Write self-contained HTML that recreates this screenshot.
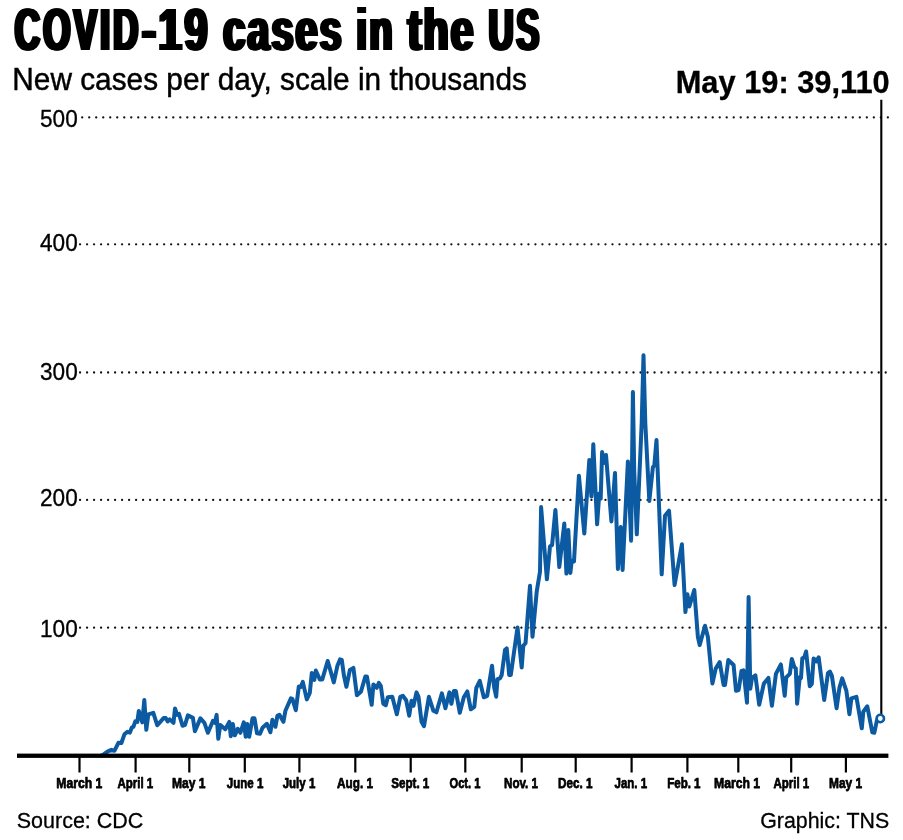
<!DOCTYPE html>
<html lang="en">
<head>
<meta charset="utf-8">
<title>COVID-19 cases in the US</title>
<style>
html,body{margin:0;padding:0;background:#fff;}
body{width:903px;height:840px;overflow:hidden;font-family:"Liberation Sans",sans-serif;}
svg{display:block;}
.wrap{position:relative;width:903px;height:840px;}
.title{position:absolute;left:0;top:0;margin:0;white-space:nowrap;font-weight:bold;font-size:59.6px;line-height:60px;color:#000;}
.title span{position:absolute;left:0;top:0;transform-origin:0 0;}
.w1{transform:translate(14.8px,0.35px) scaleX(0.5869);letter-spacing:5.45px;text-shadow:3.32px 0 0 #000,-3.32px 0 0 #000,1.66px 0 0 #000,-1.66px 0 0 #000;}
.w2{transform:translate(142.0px,0.35px) scaleX(0.7015);letter-spacing:3.71px;text-shadow:2.78px 0 0 #000,-2.78px 0 0 #000,1.39px 0 0 #000,-1.39px 0 0 #000;}
.w3{transform:translate(223.3px,0.35px) scaleX(0.6634);letter-spacing:3.17px;text-shadow:2.94px 0 0 #000,-2.94px 0 0 #000,1.47px 0 0 #000,-1.47px 0 0 #000;}
.w4{transform:translate(356.4px,0.35px) scaleX(0.6373);letter-spacing:3.77px;text-shadow:3.06px 0 0 #000,-3.06px 0 0 #000,1.53px 0 0 #000,-1.53px 0 0 #000;}
.w5{transform:translate(407.7px,0.35px) scaleX(0.6886);letter-spacing:3.05px;text-shadow:2.83px 0 0 #000,-2.83px 0 0 #000,1.42px 0 0 #000,-1.42px 0 0 #000;}
.w6{transform:translate(488.7px,0.35px) scaleX(0.5740);letter-spacing:5.23px;text-shadow:3.40px 0 0 #000,-3.40px 0 0 #000,1.70px 0 0 #000,-1.70px 0 0 #000;}
.sub{font-size:30.6px;fill:#000;stroke:#000;stroke-width:0.45px;}
.call{font-size:31.1px;font-weight:bold;fill:#000;stroke:#000;stroke-width:0.3px;}
.yl{font-size:23.2px;fill:#000;text-anchor:end;stroke:#000;stroke-width:0.3px;}
.xl{font-size:15.2px;font-weight:bold;fill:#000;stroke:#000;stroke-width:0.75px;stroke-linejoin:round;}
.foot{font-size:22.8px;fill:#000;stroke:#000;stroke-width:0.3px;}
.grid{stroke:#111;stroke-width:2.3;stroke-dasharray:0.01 6.9956;stroke-linecap:round;fill:none;}
.tick{stroke:#000;stroke-width:2.2;}
.line{fill:none;stroke:#0b5aa2;stroke-width:4;stroke-linejoin:round;stroke-linecap:round;}
</style>
</head>
<body>
<div class="wrap">
<h1 class="title"><span class="w1">COVID</span><span class="w2">-19</span> <span class="w3">cases</span> <span class="w4">in</span> <span class="w5">the</span> <span class="w6">US</span></h1>
<svg width="903" height="840" viewBox="0 0 903 840" font-family="'Liberation Sans', sans-serif">
<rect width="903" height="840" fill="#fff"/>
<text class="sub" x="12.3" y="90.3" textLength="514.6" lengthAdjust="spacingAndGlyphs">New cases per day, scale in thousands</text>
<text class="call" x="675.7" y="93" textLength="214" lengthAdjust="spacingAndGlyphs">May 19: 39,110</text>
<line class="grid" x1="82.2" y1="117.4" x2="887.89" y2="117.4"/>
<text class="yl" x="77.7" y="126.6" textLength="37.7" lengthAdjust="spacingAndGlyphs">500</text>
<line class="grid" x1="80.06" y1="244.3" x2="885.75" y2="244.3"/>
<text class="yl" x="77.7" y="251.4" textLength="37.7" lengthAdjust="spacingAndGlyphs">400</text>
<line class="grid" x1="80.06" y1="372.5" x2="885.75" y2="372.5"/>
<text class="yl" x="77.7" y="380.4" textLength="37.7" lengthAdjust="spacingAndGlyphs">300</text>
<line class="grid" x1="80.06" y1="499.9" x2="885.75" y2="499.9"/>
<text class="yl" x="77.7" y="505.5" textLength="37.7" lengthAdjust="spacingAndGlyphs">200</text>
<line class="grid" x1="80.06" y1="627.7" x2="885.75" y2="627.7"/>
<text class="yl" x="77.7" y="636.8" textLength="37.7" lengthAdjust="spacingAndGlyphs">100</text>
<line x1="881.3" y1="99.8" x2="881.3" y2="714" stroke="#000" stroke-width="2.1"/>
<path class="line" d="M101.5,755.6 L104.0,754.2 L107.9,751.3 L111.4,749.8 L114.4,750.8 L118.4,742.8 L121.4,743.0 L124.4,734.3 L127.4,731.8 L129.9,732.6 L131.9,727.3 L133.4,726.8 L135.3,721.4 L137.3,721.9 L138.8,710.9 L142.3,722.4 L144.3,699.9 L146.3,729.8 L148.3,714.4 L153.3,712.9 L157.3,725.3 L163.8,717.9 L165.7,717.9 L167.7,721.4 L169.7,719.4 L173.5,722.9 L175.0,708.4 L177.0,714.9 L179.0,713.9 L182.5,725.8 L185.0,724.9 L187.9,715.4 L192.9,717.9 L194.9,731.3 L200.4,718.4 L204.4,722.9 L207.9,732.8 L212.9,720.9 L214.9,722.9 L216.6,714.9 L218.3,738.8 L220.3,724.9 L225.3,729.3 L229.3,721.9 L230.8,736.3 L232.8,723.9 L234.8,735.3 L237.8,728.8 L240.3,732.8 L243.8,722.4 L245.7,736.8 L247.2,723.9 L249.2,736.8 L252.5,718.3 L254.5,718.3 L257.0,733.3 L260.0,733.8 L262.5,727.8 L266.9,723.8 L270.4,732.3 L272.4,719.8 L275.4,726.8 L277.4,715.8 L279.4,714.8 L283.4,721.8 L285.4,710.8 L290.9,698.4 L292.4,698.9 L295.8,710.3 L298.8,686.4 L300.8,686.9 L302.8,681.9 L306.8,699.4 L309.8,692.9 L311.8,673.0 L314.3,679.9 L315.8,670.5 L319.8,679.4 L322.3,679.4 L327.7,661.0 L333.8,682.4 L337.5,665.4 L340.0,659.4 L341.8,659.9 L344.0,675.9 L346.4,686.8 L349.9,669.9 L353.4,667.9 L356.9,695.3 L360.9,691.8 L365.4,676.4 L366.9,676.4 L371.7,704.8 L373.4,684.4 L376.8,687.8 L378.8,682.9 L380.8,685.8 L383.3,703.8 L385.8,705.3 L387.8,697.3 L392.3,696.8 L396.8,714.3 L400.3,696.8 L402.8,695.8 L406.2,700.3 L409.2,715.7 L411.5,700.8 L413.5,705.8 L416.5,692.4 L418.5,696.8 L421.5,721.8 L424.0,726.2 L428.9,696.8 L433.4,710.8 L436.4,712.3 L441.9,693.4 L445.4,708.3 L449.4,692.4 L451.4,703.8 L453.9,690.9 L455.8,690.9 L459.8,712.8 L463.8,697.3 L467.3,691.4 L470.8,709.3 L474.3,706.8 L476.3,687.9 L479.8,680.9 L483.8,697.3 L487.2,695.8 L492.0,665.8 L494.2,687.5 L496.2,696.7 L497.5,679.2 L500.0,678.3 L501.7,675.0 L505.0,650.0 L506.7,648.3 L509.2,675.0 L510.8,675.0 L517.5,627.5 L521.7,667.5 L523.3,645.8 L525.5,643.3 L530.0,585.8 L532.5,636.7 L536.7,591.7 L540.0,571.7 L541.1,507.1 L546.9,579.3 L550.0,546.4 L552.1,545.0 L555.4,510.0 L559.3,567.1 L564.3,523.6 L566.4,573.6 L568.3,530.0 L570.4,572.9 L571.7,560.7 L574.0,561.4 L578.9,475.7 L584.3,533.6 L589.3,460.0 L591.4,496.4 L593.3,444.3 L597.1,524.3 L599.3,493.6 L600.7,498.6 L602.1,452.1 L604.3,462.9 L606.0,455.0 L611.4,521.4 L615.0,472.9 L617.9,569.0 L620.7,527.0 L622.6,570.0 L627.9,461.4 L631.1,540.7 L632.9,392.1 L634.2,470.0 L636.8,534.3 L641.7,423.0 L643.5,355.2 L645.3,423.0 L649.3,501.0 L652.9,467.1 L654.3,465.7 L656.5,440.0 L661.7,574.3 L665.0,515.7 L669.0,510.7 L674.6,585.0 L681.9,544.3 L685.4,612.1 L687.4,594.3 L689.3,606.4 L694.3,590.0 L697.9,637.1 L699.7,645.0 L705.0,625.7 L707.9,637.1 L712.4,683.6 L715.7,668.6 L719.7,662.1 L723.6,685.0 L725.0,685.0 L728.3,660.0 L733.6,665.0 L736.0,690.7 L738.6,690.0 L741.5,670.9 L743.5,670.4 L747.0,702.8 L748.6,597.1 L750.3,688.8 L752.0,677.9 L755.4,675.4 L759.2,704.8 L763.9,683.4 L768.4,677.9 L771.9,705.8 L775.9,673.9 L780.9,664.4 L784.7,695.8 L786.3,677.4 L789.8,673.9 L791.8,658.9 L794.3,666.9 L795.8,668.4 L797.1,703.8 L799.8,676.9 L801.0,677.9 L802.3,658.4 L804.3,657.4 L806.1,651.5 L809.8,686.3 L811.8,683.9 L813.6,658.4 L816.2,661.4 L818.7,657.4 L824.2,699.9 L828.0,673.0 L829.9,671.5 L831.9,675.9 L836.6,708.3 L839.4,687.9 L842.2,678.4 L846.4,690.9 L849.4,714.3 L851.4,698.4 L856.4,696.9 L861.8,728.3 L863.3,711.8 L867.3,706.3 L872.3,732.3 L874.3,732.8 L876.8,720.8 L877.8,718.8"/>
<circle cx="880.3" cy="718.5" r="3.7" fill="#fff" stroke="#0b5aa2" stroke-width="2.6"/>
<rect x="17" y="753.6" width="871.4" height="4.3" fill="#000"/>
<line class="tick" x1="79.5" y1="757" x2="79.5" y2="772.5"/>
<text class="xl" x="56.27" y="788.2" textLength="46.09" lengthAdjust="spacingAndGlyphs">March 1</text>
<line class="tick" x1="135.6" y1="757" x2="135.6" y2="772.5"/>
<text class="xl" x="117.41" y="788.2" textLength="35.77" lengthAdjust="spacingAndGlyphs">April 1</text>
<line class="tick" x1="189.3" y1="757" x2="189.3" y2="772.5"/>
<text class="xl" x="172.00" y="788.2" textLength="33.53" lengthAdjust="spacingAndGlyphs">May 1</text>
<line class="tick" x1="244.8" y1="757" x2="244.8" y2="772.5"/>
<text class="xl" x="226.84" y="788.2" textLength="36.57" lengthAdjust="spacingAndGlyphs">June 1</text>
<line class="tick" x1="299.4" y1="757" x2="299.4" y2="772.5"/>
<text class="xl" x="282.72" y="788.2" textLength="32.56" lengthAdjust="spacingAndGlyphs">July 1</text>
<line class="tick" x1="355.3" y1="757" x2="355.3" y2="772.5"/>
<text class="xl" x="337.07" y="788.2" textLength="35.93" lengthAdjust="spacingAndGlyphs">Aug. 1</text>
<line class="tick" x1="410.7" y1="757" x2="410.7" y2="772.5"/>
<text class="xl" x="391.15" y="788.2" textLength="38.22" lengthAdjust="spacingAndGlyphs">Sept. 1</text>
<line class="tick" x1="465.3" y1="757" x2="465.3" y2="772.5"/>
<text class="xl" x="449.48" y="788.2" textLength="30.96" lengthAdjust="spacingAndGlyphs">Oct. 1</text>
<line class="tick" x1="521.7" y1="757" x2="521.7" y2="772.5"/>
<text class="xl" x="504.00" y="788.2" textLength="34.02" lengthAdjust="spacingAndGlyphs">Nov. 1</text>
<line class="tick" x1="575.7" y1="757" x2="575.7" y2="772.5"/>
<text class="xl" x="558.00" y="788.2" textLength="34.43" lengthAdjust="spacingAndGlyphs">Dec. 1</text>
<line class="tick" x1="631.6" y1="757" x2="631.6" y2="772.5"/>
<text class="xl" x="614.49" y="788.2" textLength="32.64" lengthAdjust="spacingAndGlyphs">Jan. 1</text>
<line class="tick" x1="687.4" y1="757" x2="687.4" y2="772.5"/>
<text class="xl" x="667.16" y="788.2" textLength="33.37" lengthAdjust="spacingAndGlyphs">Feb. 1</text>
<line class="tick" x1="738.3" y1="757" x2="738.3" y2="772.5"/>
<text class="xl" x="714.00" y="788.2" textLength="46.15" lengthAdjust="spacingAndGlyphs">March 1</text>
<line class="tick" x1="791.2" y1="757" x2="791.2" y2="772.5"/>
<text class="xl" x="773.46" y="788.2" textLength="35.72" lengthAdjust="spacingAndGlyphs">April 1</text>
<line class="tick" x1="845.9" y1="757" x2="845.9" y2="772.5"/>
<text class="xl" x="829.00" y="788.2" textLength="33.15" lengthAdjust="spacingAndGlyphs">May 1</text>
<text class="foot" x="16.8" y="827.7" textLength="126.5" lengthAdjust="spacingAndGlyphs">Source: CDC</text>
<text class="foot" x="760.2" y="827.7" textLength="129" lengthAdjust="spacingAndGlyphs">Graphic: TNS</text>
</svg>
</div>
</body>
</html>
